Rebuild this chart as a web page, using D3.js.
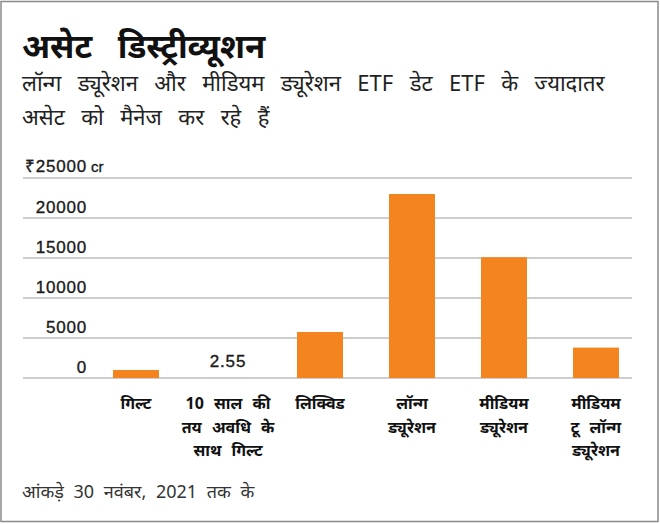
<!DOCTYPE html>
<html>
<head>
<meta charset="utf-8">
<script src="https://cdn.jsdelivr.net/npm/d3@7"></script>
<style>
  body { margin: 0; background: #fff; }
  svg { display: block; }
  text { font-family: "Noto Sans", "Liberation Sans", sans-serif; }
  .num { font-family: "Liberation Sans", Arial, sans-serif; }
</style>
</head>
<body>
<svg width="660" height="524"></svg>
<script>
// data
var categories = ["गिल्ट", "10 साल की|तय अवधि के|साथ गिल्ट", "लिक्विड", "लॉन्ग|ड्यूरेशन", "मीडियम|ड्यूरेशन", "मीडियम|टू लॉन्ग|ड्यूरेशन"];
var values = [1000, 2.55, 5750, 23000, 15100, 3800];
var yTicks = [0, 5000, 10000, 15000, 20000, 25000];
var valueLabels = ["", "2.55", "", "", "", ""];

var title = "असेट डिस्ट्रीव्यूशन";
var subtitle = ["लॉन्ग ड्यूरेशन और मीडियम ड्यूरेशन ETF डेट ETF के ज्यादातर", "असेट को मैनेज कर रहे हैं"];
var note = "आंकड़े 30 नवंबर, 2021 तक के";

var svg = d3.select("svg"),
    width = 660, height = 524;

// frame
svg.append("rect")
    .attr("x", 1).attr("y", 1.5)
    .attr("width", 657).attr("height", 520)
    .attr("fill", "#fff").attr("stroke", "#8a8a8a").attr("stroke-width", 1.5);

// header
svg.append("text")
    .attr("x", 22).attr("y", 58)
    .attr("font-size", 33).attr("font-weight", "bold")
    .attr("word-spacing", 17)
    .attr("fill", "#111")
    .text(title);

svg.selectAll(".sub")
    .data(subtitle)
    .enter().append("text")
    .attr("class", "sub")
    .attr("x", 22)
    .attr("y", (d, i) => 91 + i * 34)
    .attr("font-size", 22)
    .attr("word-spacing", 10.7)
    .attr("fill", "#222")
    .text(d => d);

// scales
var x = d3.scaleBand()
    .domain(categories)
    .range([90, 642])
    .paddingInner(0.5)
    .paddingOuter(0.25);

var y = d3.scaleLinear()
    .domain([0, 25000])
    .range([378, 178]);

// gridlines
svg.append("g")
    .selectAll("line")
    .data(yTicks)
    .enter().append("line")
    .attr("x1", 23).attr("x2", 632)
    .attr("y1", d => y(d)).attr("y2", d => y(d))
    .attr("stroke", "#bdbdbd").attr("stroke-width", 1.5);

// tick labels
svg.append("g")
    .selectAll("text")
    .data(yTicks.filter(d => d < 25000))
    .enter().append("text")
    .attr("class", "num")
    .attr("x", 87)
    .attr("y", d => y(d) - 5.5)
    .attr("text-anchor", "end")
    .attr("font-size", 17)
    .attr("letter-spacing", 0.8)
    .attr("fill", "#1a1a1a")
    .attr("stroke", "#1a1a1a").attr("stroke-width", 0.35)
    .text(d => d);

var topLabel = svg.append("text")
    .attr("class", "num")
    .attr("x", 25)
    .attr("y", y(25000) - 6)
    .attr("font-size", 17)
    .attr("letter-spacing", 0.8)
    .attr("fill", "#1a1a1a")
    .attr("stroke", "#1a1a1a").attr("stroke-width", 0.35);
topLabel.append("tspan").text("₹25000");
topLabel.append("tspan").attr("font-size", 15).attr("letter-spacing", 0).attr("dx", 4).text("cr");

// bars
svg.append("g")
    .selectAll("rect")
    .data(values)
    .enter().append("rect")
    .attr("x", (d, i) => x(categories[i]))
    .attr("width", x.bandwidth())
    .attr("y", d => y(d))
    .attr("height", d => y(0) - y(d))
    .attr("fill", "#f4841f");

// value labels
svg.append("g")
    .selectAll("text")
    .data(values)
    .enter().append("text")
    .attr("class", "num")
    .attr("x", (d, i) => x(categories[i]) + x.bandwidth() / 2)
    .attr("y", d => y(d) - 11)
    .attr("text-anchor", "middle")
    .attr("font-size", 17)
    .attr("letter-spacing", 0.8)
    .attr("fill", "#1a1a1a")
    .attr("stroke", "#1a1a1a").attr("stroke-width", 0.35)
    .text((d, i) => valueLabels[i]);

// category labels
var cat = svg.append("g")
    .selectAll("text")
    .data(categories)
    .enter().append("text")
    .attr("x", d => x(d) + x.bandwidth() / 2)
    .attr("y", 409)
    .attr("text-anchor", "middle")
    .attr("font-size", 16)
    .attr("font-weight", "bold")
    .attr("word-spacing", 6)
    .attr("fill", "#111");

cat.selectAll("tspan")
    .data(d => d.split("|"))
    .enter().append("tspan")
    .attr("x", function() { return d3.select(this.parentNode).attr("x"); })
    .attr("dy", (d, i) => i == 0 ? 0 : 23.5)
    .text(d => d);

// footnote
svg.append("text")
    .attr("x", 22).attr("y", 498)
    .attr("font-size", 18)
    .attr("word-spacing", 5)
    .attr("fill", "#333")
    .text(note);
</script>
</body>
</html>
